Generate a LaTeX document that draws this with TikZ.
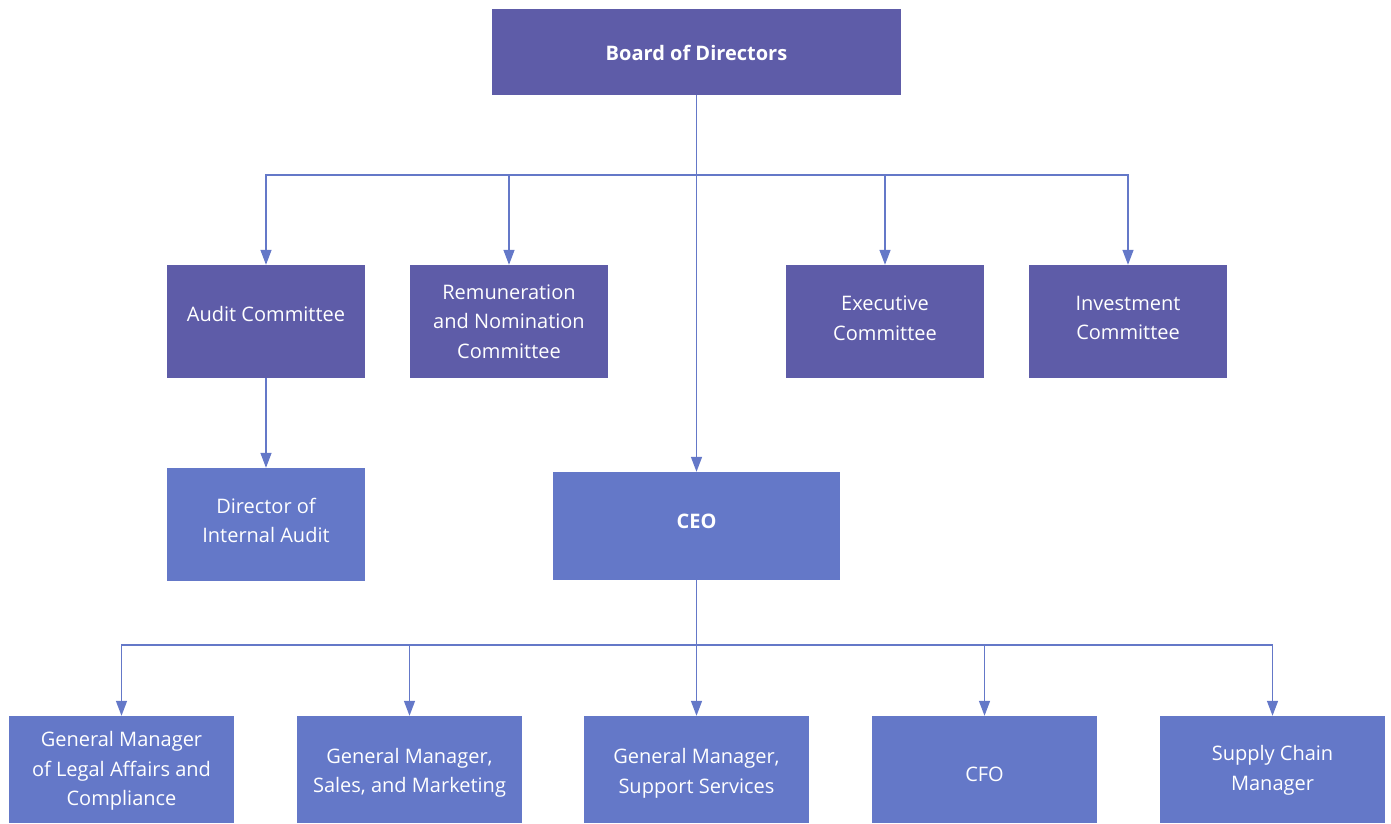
\documentclass[tikz,border=0pt]{standalone}
\usepackage{fontspec}
\setmainfont{Open Sans}
\usetikzlibrary{arrows.meta}
\definecolor{darkbox}{HTML}{5E5CA8}
\definecolor{lightbox}{HTML}{6478C8}
\definecolor{linec}{HTML}{6478C8}
\tikzset{
  box/.style={rectangle, inner sep=0pt},
  darkb/.style={box, fill=darkbox},
  lightb/.style={box, fill=lightbox},
  lbl/.style={inner sep=0pt, text=white, align=center,
    font=\fontsize{20}{29.5}\selectfont},
  blbl/.style={lbl, font=\fontsize{20}{29.5}\selectfont\bfseries},
  conn/.style={draw=linec, line width=1.4pt},
  arr/.style={conn, -{Triangle[length=15pt,width=11pt]}},
}
\begin{document}
\begin{tikzpicture}[x=1pt,y=-1pt]
\useasboundingbox (0,0) rectangle (1391,823);
\node[darkb, minimum width=409pt, minimum height=86pt] (board) at (696.5,52) {};
\node[darkb, minimum width=198pt, minimum height=113pt] (audit) at (266,321.5) {};
\node[darkb, minimum width=198pt, minimum height=113pt] (remun) at (509,321.5) {};
\node[darkb, minimum width=198pt, minimum height=113pt] (exec) at (885,321.5) {};
\node[darkb, minimum width=198pt, minimum height=113pt] (invest) at (1128,321.5) {};
\node[lightb, minimum width=198pt, minimum height=113pt] (dia) at (266,524.5) {};
\node[lightb, minimum width=287pt, minimum height=108pt] (ceo) at (696.5,526) {};
\node[lightb, minimum width=225pt, minimum height=107pt] (legal) at (121.5,769.5) {};
\node[lightb, minimum width=225pt, minimum height=107pt] (sales) at (409.5,769.5) {};
\node[lightb, minimum width=225pt, minimum height=107pt] (support) at (696.5,769.5) {};
\node[lightb, minimum width=225pt, minimum height=107pt] (cfo) at (984.5,769.5) {};
\node[lightb, minimum width=225pt, minimum height=107pt] (supply) at (1272.5,769.5) {};
% labels (yshift positive = up on the page)
\node[blbl] (boardt) at ([yshift=-1pt]board.center) {Board of Directors};
\node[lbl] (auditt) at ([yshift=8pt]audit.center) {Audit Committee};
\node[lbl] (remunt) at ([yshift=0pt]remun.center) {Remuneration\\and Nomination\\Committee};
\node[lbl] (exect) at ([yshift=3.5pt]exec.center) {Executive\\Committee};
\node[lbl] (investt) at ([yshift=3.5pt]invest.center) {Investment\\Committee};
\node[lbl] (diat) at ([yshift=4pt]dia.center) {Director of\\Internal Audit};
\node[blbl] (ceot) at ([yshift=5pt]ceo.center) {CEO};
\node[lbl] (legalt) at ([yshift=-1.5pt]legal.center) {General Manager\\of Legal Affairs and\\Compliance};
\node[lbl] (salest) at ([yshift=-3.5pt]sales.center) {General Manager,\\Sales, and Marketing};
\node[lbl] (supportt) at ([yshift=-4pt]support.center) {General Manager,\\Support Services};
\node[lbl] (cfot) at ([yshift=-4.5pt]cfo.center) {CFO};
\node[lbl] (supplyt) at ([yshift=-1pt]supply.center) {Supply Chain\\Manager};
\coordinate (bus1) at (696.5,175);
\coordinate (bus2) at (696.5,645);
\draw[conn] (board.south) -- (bus1);
\draw[arr] (bus1) -- (ceo.north);
\draw[arr] (bus1) -| (audit.north);
\draw[arr] (bus1) -| (remun.north);
\draw[arr] (bus1) -| (exec.north);
\draw[arr] (bus1) -| (invest.north);
\draw[arr] (audit.south) -- (dia.north);
\draw[conn] (ceo.south) -- (bus2);
\draw[arr] (bus2) -- (support.north);
\draw[arr] (bus2) -| (legal.north);
\draw[arr] (bus2) -| (sales.north);
\draw[arr] (bus2) -| (cfo.north);
\draw[arr] (bus2) -| (supply.north);
\end{tikzpicture}
\end{document}
